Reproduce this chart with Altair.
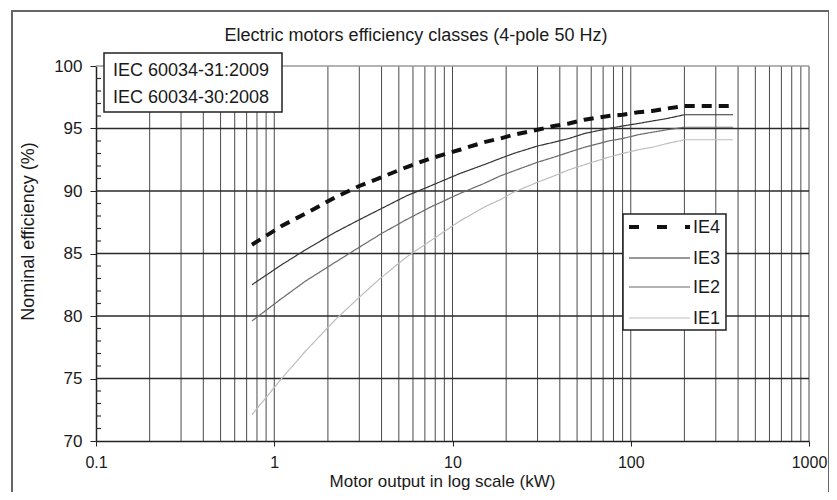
import altair as alt
import pandas as pd

# ---- data (4-pole, 50 Hz) ----
power_kw = [0.75, 1.1, 1.5, 2.2, 3, 4, 5.5, 7.5, 11, 15, 18.5, 22, 30, 37, 45,
            55, 75, 90, 110, 132, 160, 200, 250, 315, 355, 375]
ie4 = [85.7, 87.2, 88.2, 89.5, 90.4, 91.1, 91.9, 92.6, 93.3, 93.9, 94.2, 94.5, 94.9,
       95.2, 95.4, 95.7, 96.0, 96.1, 96.3, 96.4, 96.6, 96.8, 96.8, 96.8, 96.8, 96.8]
ie3 = [82.5, 84.1, 85.3, 86.7, 87.7, 88.6, 89.6, 90.4, 91.4, 92.1, 92.6, 93.0, 93.6,
       93.9, 94.2, 94.6, 95.0, 95.2, 95.4, 95.6, 95.8, 96.1, 96.1, 96.1, 96.1, 96.1]
ie2 = [79.6, 81.4, 82.8, 84.3, 85.5, 86.6, 87.7, 88.7, 89.8, 90.6, 91.2, 91.6, 92.3,
       92.7, 93.1, 93.5, 94.0, 94.2, 94.5, 94.7, 94.9, 95.1, 95.1, 95.1, 95.1, 95.1]
ie1 = [72.1, 75.0, 77.2, 79.7, 81.5, 83.1, 84.7, 86.0, 87.6, 88.7, 89.3, 89.9, 90.7,
       91.2, 91.7, 92.1, 92.7, 93.0, 93.3, 93.5, 93.8, 94.1, 94.1, 94.1, 94.1, 94.1]

classes = ["IE4", "IE3", "IE2", "IE1"]
class_colors = ["#111111", "#333333", "#6a6a6a", "#bdbdbd"]
class_dash = [[10, 7], [1, 0], [1, 0], [1, 0]]
legend_dash = [[10, 18], [1, 0], [1, 0], [1, 0]]
class_width = [4, 1.2, 1.2, 1.2]

x_ticks = [0.1, 1, 10, 100, 1000]
x_grid = [0.2, 0.3, 0.4, 0.5, 0.6, 0.7, 0.8, 0.9,
          1, 2, 3, 4, 5, 6, 7, 8, 9,
          10, 20, 30, 40, 50, 60, 70, 80, 90,
          100, 200, 300, 400, 500, 600, 700, 800, 900, 1000]
y_ticks = [70, 75, 80, 85, 90, 95, 100]
y_grid_dark = [75, 80, 85, 90, 95]
y_grid_light = [100]
y_minor = [v for v in range(71, 100) if v % 5 != 0]

title_text = "Electric motors efficiency classes (4-pole 50 Hz)"
box_lines = ["IEC 60034-31:2009", "IEC 60034-30:2008"]

FONT = "Liberation Sans"
TXT = "#1a1a1a"

rows = []
for name, vals, w in zip(classes, [ie4, ie3, ie2, ie1], class_width):
    for p, v in zip(power_kw, vals):
        rows.append({"power": p, "eff": v, "cls": name, "w": w})
df = pd.DataFrame(rows)

xscale = alt.Scale(type="log", domain=[0.1, 1000])
yscale = alt.Scale(domain=[70, 100], nice=False, zero=False)

x_axis = alt.Axis(values=x_ticks, format="~g", grid=False,
                  title="Motor output in log scale (kW)",
                  titleX=346, titleY=40, titleAlign="center",
                  titleBaseline="middle", titleFontWeight="normal",
                  titleFontSize=17, titleFont=FONT, titleColor=TXT,
                  labelFont=FONT, labelFontSize=16, labelColor=TXT,
                  labelFlush=False, labelOverlap=False,
                  labelPadding=8, tickSize=5, tickColor="#222",
                  domainColor="#222", domainWidth=1.5)
y_axis = alt.Axis(values=y_ticks, grid=False,
                  title="Nominal efficiency (%)",
                  titleX=-68, titleY=165, titleAlign="center",
                  titleBaseline="middle", titleAngle=270,
                  titleFontWeight="normal", titleFontSize=18,
                  titleFont=FONT, titleColor=TXT,
                  labelFont=FONT, labelFontSize=17, labelColor=TXT,
                  labelFlush=False, labelOverlap=False,
                  labelPadding=8, tickSize=6, tickColor="#222",
                  domainColor="#222", domainWidth=1.5)

one = alt.Data(values=[{"a": 1}])

# outer frame of the figure
border = alt.Chart(one).mark_rect(fill=None, stroke="#666666", strokeWidth=2).encode(
    x=alt.value(-84), x2=alt.value(733), y=alt.value(-55), y2=alt.value(440)
)

vgrid = alt.Chart(pd.DataFrame({"g": x_grid})).mark_rule(
    color="#4a4a4a", strokeWidth=1).encode(
    x=alt.X("g:Q", scale=xscale, axis=x_axis))

hgrid = alt.Chart(pd.DataFrame({"g": y_grid_dark})).mark_rule(
    color="#2a2a2a", strokeWidth=1.5).encode(
    y=alt.Y("g:Q", scale=yscale, axis=y_axis))

hgrid_top = alt.Chart(pd.DataFrame({"g": y_grid_light})).mark_rule(
    color="#9a9a9a", strokeWidth=1.5).encode(
    y=alt.Y("g:Q", scale=yscale, axis=y_axis))

minor = alt.Chart(pd.DataFrame({"g": y_minor})).mark_rule(
    color="#333333", strokeWidth=1.2).encode(
    y=alt.Y("g:Q", scale=yscale, axis=y_axis),
    x=alt.value(0), x2=alt.value(5))

lines = alt.Chart(df).mark_line(clip=False).encode(
    x=alt.X("power:Q", scale=xscale, axis=x_axis),
    y=alt.Y("eff:Q", scale=yscale, axis=y_axis),
    color=alt.Color("cls:N", scale=alt.Scale(domain=classes, range=class_colors),
                    legend=None),
    strokeDash=alt.StrokeDash("cls:N", scale=alt.Scale(domain=classes, range=class_dash),
                              legend=None),
    strokeWidth=alt.StrokeWidth("w:Q", scale=None, legend=None),
    detail="cls:N",
)

title = alt.Chart(one).mark_text(
    font=FONT, fontSize=18, color=TXT, align="center", baseline="middle",
    text=title_text).encode(x=alt.value(320), y=alt.value(-30))

# standard annotation box (upper left)
tbox = alt.Chart(one).mark_rect(fill="white", stroke="#222", strokeWidth=1.5).encode(
    x=alt.value(8), x2=alt.value(186), y=alt.value(-13), y2=alt.value(46))
box_ys = [5, 31.5]
tbox_texts = [
    alt.Chart(one).mark_text(font=FONT, fontSize=18, color=TXT, align="left",
                             baseline="middle", text=t).encode(
        x=alt.value(17), y=alt.value(yy))
    for t, yy in zip(box_lines, box_ys)
]

# legend box (drawn from the same class lists)
leg_box = alt.Chart(one).mark_rect(fill="white", stroke="#222", strokeWidth=1.5).encode(
    x=alt.value(527), x2=alt.value(630), y=alt.value(148), y2=alt.value(264))
leg_ys = [161, 192, 221, 252]
leg_layers = []
for name, col, dash, w, yy in zip(classes, class_colors, legend_dash, class_width, leg_ys):
    leg_layers.append(
        alt.Chart(one).mark_rule(color=col, strokeDash=dash, strokeWidth=w).encode(
            x=alt.value(533), x2=alt.value(594), y=alt.value(yy)))
    leg_layers.append(
        alt.Chart(one).mark_text(font=FONT, fontSize=18, color=TXT, align="left",
                                 baseline="middle", text=name).encode(
            x=alt.value(597), y=alt.value(yy + 1)))

chart = alt.layer(border, vgrid, hgrid, hgrid_top, minor, lines, tbox, *tbox_texts,
                  leg_box, *leg_layers, title).properties(
    width=713, height=375,
    autosize=alt.AutoSizeParams(type="none"),
    padding={"left": 88, "top": 58, "right": 20, "bottom": 51},
).configure_view(stroke=None)

chart.save("out.html", embed_options={"renderer": "svg", "actions": False})
